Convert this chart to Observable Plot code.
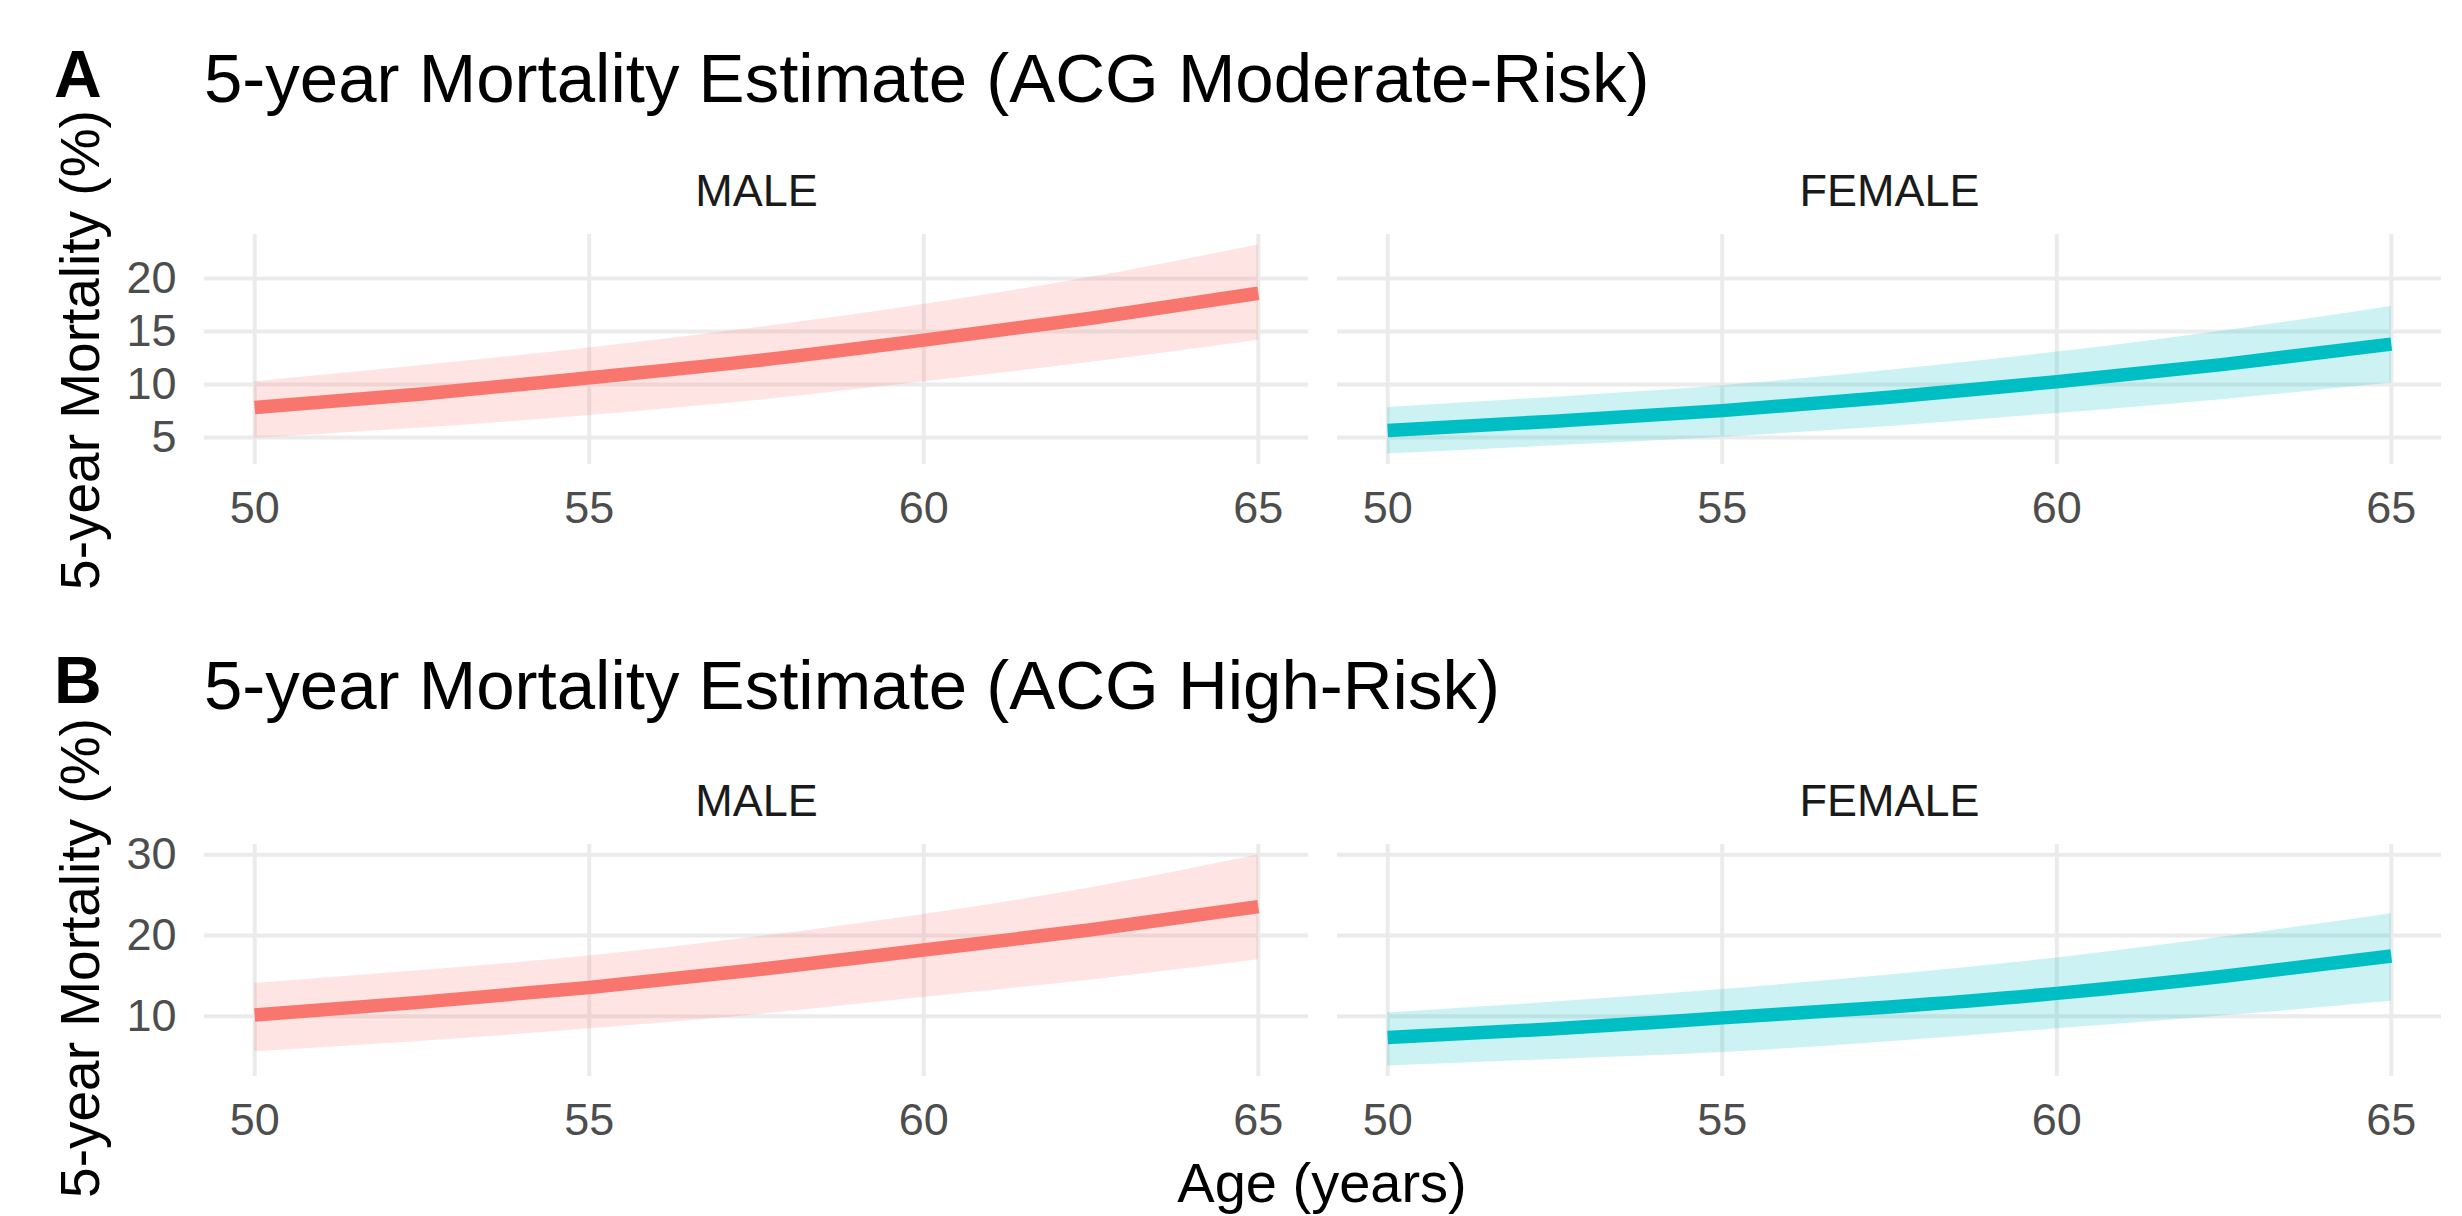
<!DOCTYPE html>
<html><head><meta charset="utf-8">
<script src="https://cdn.jsdelivr.net/npm/d3@7"></script>
<script src="https://cdn.jsdelivr.net/npm/@observablehq/plot@0.6"></script>
<style>
html,body{margin:0;padding:0;background:#fff;}
#root{position:relative;width:2462px;height:1216px;overflow:hidden;background:#fff;font-family:"Liberation Sans",Arial,Helvetica,sans-serif;}
#root > svg, #root > figure{position:absolute;left:0;margin:0;}
</style></head><body><div id="root"></div>
<script>
// ---- data ----
const ages = [50, 52.5, 55, 57.5, 60, 62.5, 65];
const sexes = ["MALE", "FEMALE"];
const ageTicks = [50, 55, 60, 65];
const yTicksModerate = [5, 10, 15, 20];
const yTicksHigh = [10, 20, 30];

// ACG Moderate-Risk
const modMaleEst   = [7.84, 9.1, 10.63, 12.25, 14.18, 16.25, 18.6];
const modMaleLo    = [4.93, 5.9, 7.09, 8.5, 10.26, 12.1, 14.18];
const modMaleHi    = [10.26, 11.8, 13.43, 15.35, 17.54, 20.1, 23.15];
const modFemaleEst = [5.67, 6.55, 7.54, 8.8, 10.26, 11.9, 13.81];
const modFemaleLo  = [3.45, 4.22, 5.04, 6.05, 7.28, 8.6, 10.15];
const modFemaleHi  = [7.84, 8.8, 9.89, 11.35, 13.06, 15.05, 17.35];

// ACG High-Risk
const highMaleEst   = [10.15, 11.75, 13.56, 15.75, 18.2, 20.7, 23.56];
const highMaleLo    = [5.61, 6.9, 8.44, 10.2, 12.34, 14.5, 16.98];
const highMaleHi    = [14.05, 15.65, 17.46, 19.8, 22.59, 25.9, 29.95];
const highFemaleEst = [7.37, 8.45, 9.8, 11.15, 12.83, 14.95, 17.46];
const highFemaleLo  = [3.85, 4.65, 5.51, 6.85, 8.44, 10.05, 11.85];
const highFemaleHi  = [10.39, 11.75, 13.32, 15.1, 17.22, 19.8, 22.68];

const colors = ["#F8766D", "#00BFC4"];
const FONT = '"Liberation Sans", Arial, Helvetica, sans-serif';

function rowsFor(est, lo, hi, sex) {
  return ages.map((a, i) => ({age: a, sex, est: est[i], lo: lo[i], hi: hi[i]}));
}
function expanded(rows) {
  const ext = d3.extent(rows.flatMap(d => [d.lo, d.hi]));
  const pad = (ext[1] - ext[0]) * 0.05;
  return [ext[0] - pad, ext[1] + pad];
}

function panel(rows, yTicks, top, height, marginBottom) {
  const svg = Plot.plot({
    width: 2462, height,
    marginLeft: 203, marginRight: 21, marginTop: 104, marginBottom,
    style: {fontFamily: FONT, fontSize: "45px", background: "transparent", overflow: "visible"},
    fx: {domain: sexes, paddingInner: 0.0256, paddingOuter: 0, label: null},
    x: {domain: [49.25, 65.75], label: null},
    y: {domain: expanded(rows), label: null},
    color: {domain: sexes, range: colors},
    marks: [
      Plot.gridX(ageTicks, {stroke: "#EBEBEB", strokeOpacity: 1, strokeWidth: 4}),
      Plot.gridY(yTicks, {stroke: "#EBEBEB", strokeOpacity: 1, strokeWidth: 4}),
      Plot.areaY(rows, {x: "age", y1: "lo", y2: "hi", fx: "sex", fill: "sex", fillOpacity: 0.2, curve: "monotone-x"}),
      Plot.lineY(rows, {x: "age", y: "est", fx: "sex", stroke: "sex", strokeWidth: 13.5, strokeLinecap: "butt", curve: "monotone-x"}),
      Plot.axisX(ageTicks, {tickSize: 0, tickPadding: 27, fontSize: 45, fill: "#4D4D4D", label: null}),
      Plot.axisY(yTicks, {tickSize: 0, tickPadding: 28, fontSize: 45, fill: "#4D4D4D", label: null}),
      Plot.axisFx({anchor: "top", tickSize: 0, tickPadding: 29, fontSize: 45, fill: "#1A1A1A", label: null})
    ]
  });
  svg.style.top = top + "px";
  return svg;
}

const root = document.getElementById("root");
const rowsA = [...rowsFor(modMaleEst, modMaleLo, modMaleHi, "MALE"), ...rowsFor(modFemaleEst, modFemaleLo, modFemaleHi, "FEMALE")];
const rowsB = [...rowsFor(highMaleEst, highMaleLo, highMaleHi, "MALE"), ...rowsFor(highFemaleEst, highFemaleLo, highFemaleHi, "FEMALE")];
root.appendChild(panel(rowsA, yTicksModerate, 130, 420, 86));
root.appendChild(panel(rowsB, yTicksHigh, 740, 420, 84));

// ---- titles overlay ----
const ns = "http://www.w3.org/2000/svg";
const ov = document.createElementNS(ns, "svg");
ov.setAttribute("width", 2462); ov.setAttribute("height", 1216);
ov.style.position = "absolute"; ov.style.left = "0"; ov.style.top = "0";
ov.style.fontFamily = FONT;
function addText(str, attrs) {
  const t = document.createElementNS(ns, "text");
  for (const k in attrs) t.setAttribute(k, attrs[k]);
  t.textContent = str;
  ov.appendChild(t);
}
addText("A", {x: 54, y: 97, "font-size": 66, "font-weight": "bold", fill: "#000"});
addText("5-year Mortality Estimate (ACG Moderate-Risk)", {x: 204, y: 102, "font-size": 69, fill: "#000"});
addText("B", {x: 54, y: 703, "font-size": 66, "font-weight": "bold", fill: "#000"});
addText("5-year Mortality Estimate (ACG High-Risk)", {x: 204, y: 709, "font-size": 69, fill: "#000"});
addText("5-year Mortality (%)", {transform: "translate(99,350) rotate(-90)", "text-anchor": "middle", "font-size": 55, fill: "#000"});
addText("5-year Mortality (%)", {transform: "translate(99,958) rotate(-90)", "text-anchor": "middle", "font-size": 55, fill: "#000"});
addText("Age (years)", {x: 1322, y: 1202, "text-anchor": "middle", "font-size": 56, fill: "#000"});
root.appendChild(ov);
</script></body></html>
